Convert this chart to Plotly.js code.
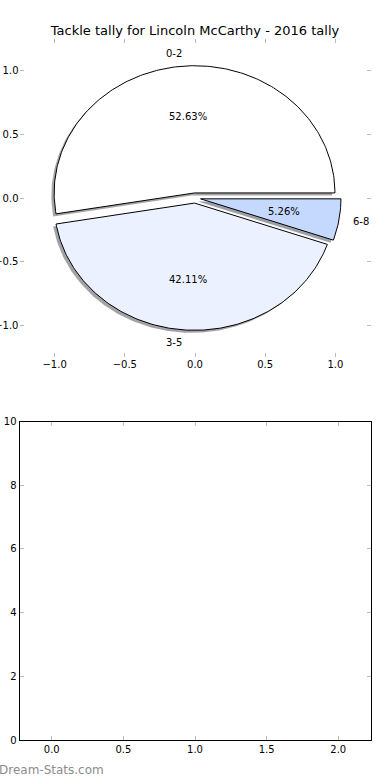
<!DOCTYPE html>
<html>
<head>
<meta charset="utf-8">
<script src="https://cdn.plot.ly/plotly-3.0.1.min.js"></script>
<style>html,body{margin:0;padding:0;background:#fff;}#chart{width:390px;height:780px;}</style>
</head>
<body>
<div id="chart"></div>
<script>
// ---- data ----
const sliceLabels = ['0-2', '3-5', '6-8'];
const sliceCounts = [10, 8, 1];
const sliceColors = ['#ffffff', '#ebf1ff', '#c5d9ff'];
const chartTitle = 'Tackle tally for Lincoln McCarthy - 2016 tally';
const watermark = 'Dream-Stats.com';
const pieTicks = [-1.0, -0.5, 0.0, 0.5, 1.0];
const lowerXTicks = [0.0, 0.5, 1.0, 1.5, 2.0];
const lowerYTicks = [0, 2, 4, 6, 8, 10];

// ---- style/geometry constants ----
const EXPLODE = 0.04, SHADOW_DX = -0.02, SHADOW_DY = -0.02;
const LABEL_DIST = 1.1, PCT_DIST = 0.6;
const FONT = 'DejaVu Sans, sans-serif';

const total = sliceCounts.reduce((a, b) => a + b, 0);
const traces = [], shadowTraces = [], annotations = [];
let acc = 0;
sliceCounts.forEach((v, i) => {
  const t1 = acc / total * 360;
  acc += v;
  const t2 = acc / total * 360;
  const mid = (t1 + t2) / 2 * Math.PI / 180;
  const cx = EXPLODE * Math.cos(mid), cy = EXPLODE * Math.sin(mid);
  const xs = [cx], ys = [cy];
  const n = Math.max(4, Math.ceil((t2 - t1) / 1));
  for (let k = 0; k <= n; k++) {
    const a = (t1 + (t2 - t1) * k / n) * Math.PI / 180;
    xs.push(cx + Math.cos(a));
    ys.push(cy + Math.sin(a));
  }
  xs.push(cx); ys.push(cy);
  const rgb = sliceColors[i].match(/[0-9a-f]{2}/gi).map(h => Math.round(parseInt(h, 16) * 0.3));
  shadowTraces.push({
    type: 'scatter', mode: 'lines', x: xs.map(x => x + SHADOW_DX), y: ys.map(y => y + SHADOW_DY),
    fill: 'toself', fillcolor: `rgba(${rgb[0]},${rgb[1]},${rgb[2]},0.5)`,
    line: {width: 0, color: 'rgba(0,0,0,0)'}, hoverinfo: 'skip', showlegend: false,
    xaxis: 'x', yaxis: 'y'
  });
  traces.push({
    type: 'scatter', mode: 'lines', x: xs, y: ys, fill: 'toself', fillcolor: sliceColors[i],
    line: {width: 1, color: '#000000'}, hoverinfo: 'skip', showlegend: false,
    xaxis: 'x', yaxis: 'y'
  });
  const lx = cx + LABEL_DIST * Math.cos(mid), ly = cy + LABEL_DIST * Math.sin(mid);
  annotations.push({
    x: lx, y: ly, xref: 'x', yref: 'y', text: sliceLabels[i], showarrow: false,
    xanchor: lx < 0 ? 'right' : 'left', yanchor: 'middle', borderpad: 0, borderwidth: 0,
    font: {family: FONT, size: 10, color: '#000'}
  });
  const px = cx + PCT_DIST * Math.cos(mid), py = cy + PCT_DIST * Math.sin(mid);
  annotations.push({
    x: px, y: py, xref: 'x', yref: 'y', text: (v / total * 100).toFixed(2) + '%', showarrow: false,
    xanchor: 'center', yanchor: 'middle', borderpad: 0, borderwidth: 0,
    font: {family: FONT, size: 10, color: '#000'}
  });
});

annotations.push({
  x: -0.003, y: 1 - 770 / 780, xref: 'paper', yref: 'paper', text: watermark, showarrow: false,
  xanchor: 'left', yanchor: 'middle', borderpad: 0, borderwidth: 0,
  font: {family: FONT, size: 12, color: '#8c8c8c'}
});

const emptyTrace = {type: 'scatter', mode: 'markers', x: [], y: [], xaxis: 'x2', yaxis: 'y2',
  showlegend: false, hoverinfo: 'skip'};

const tickStyle = {ticks: 'inside', ticklen: 4, tickwidth: 1, tickcolor: '#bbbbbb',
  tickfont: {family: FONT, size: 10, color: '#000'}, showgrid: false, zeroline: false};

const fmtPie = t => (t < 0 ? '\u2212' : '') + Math.abs(t).toFixed(1);

const layout = {
  width: 390, height: 780,
  margin: {l: 0, r: 0, t: 0, b: 0},
  paper_bgcolor: '#ffffff', plot_bgcolor: 'rgba(0,0,0,0)',
  showlegend: false,
  title: {text: chartTitle, x: 0.5, xanchor: 'center', xref: 'paper', y: 1 - 30 / 780, yanchor: 'middle', yref: 'paper',
    font: {family: FONT, size: 13, color: '#000'}},
  xaxis: Object.assign({}, tickStyle, {domain: [0.05, 0.95], range: [-1.25, 1.25], anchor: 'y',
    tickmode: 'array', tickvals: pieTicks, ticktext: pieTicks.map(fmtPie),
    showline: false, mirror: 'ticks'}),
  yaxis: Object.assign({}, tickStyle, {domain: [1 - 357 / 780, 0.95], range: [-1.25, 1.25], anchor: 'x',
    tickmode: 'array', tickvals: pieTicks, ticktext: pieTicks.map(fmtPie),
    showline: false, mirror: 'ticks'}),
  xaxis2: Object.assign({}, tickStyle, {domain: [0.05, 0.95], range: [-0.225, 2.225], anchor: 'y2',
    tickmode: 'array', tickvals: lowerXTicks, ticktext: lowerXTicks.map(t => t.toFixed(1)),
    showline: true, linecolor: '#000', linewidth: 1, mirror: 'allticks'}),
  yaxis2: Object.assign({}, tickStyle, {domain: [1 - 740 / 780, 1 - 421.5 / 780], range: [0, 10], anchor: 'x2',
    tickmode: 'array', tickvals: lowerYTicks, ticktext: lowerYTicks.map(t => String(t)),
    showline: true, linecolor: '#000', linewidth: 1, mirror: 'allticks'}),
  annotations: annotations
};

Plotly.newPlot('chart', shadowTraces.concat(traces, [emptyTrace]), layout, {staticPlot: true, displayModeBar: false});
</script>
</body>
</html>
